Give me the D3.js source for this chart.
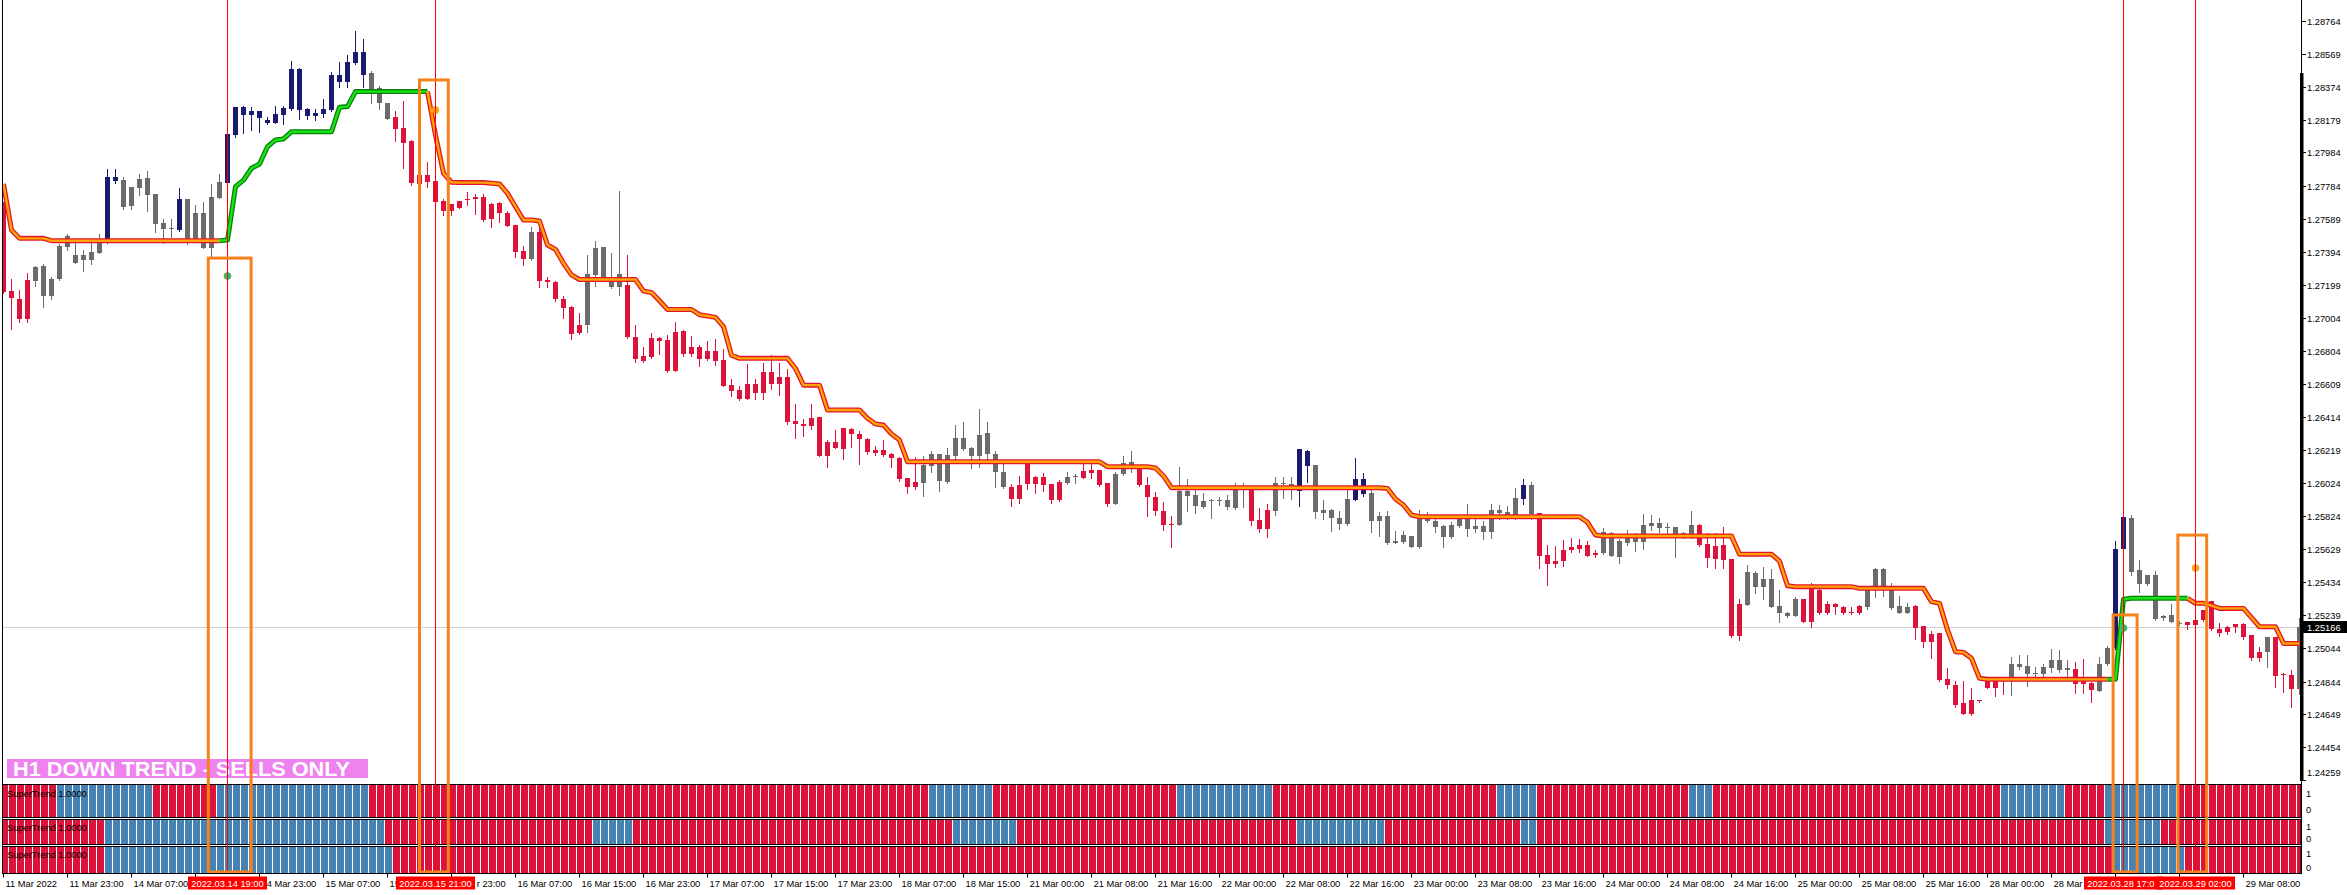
<!DOCTYPE html>
<html><head><meta charset="utf-8">
<script src="https://cdn.jsdelivr.net/npm/d3@7/dist/d3.min.js"></script>
<style>html,body{margin:0;padding:0;background:#fff;}svg{display:block;font-family:"Liberation Sans",Arial,sans-serif;}</style>
</head><body>
<svg id="chart" width="2347" height="895"></svg>
<script>
// ---------- DATA (GBPUSD H1, 11 Mar 2022 15:00 .. 29 Mar 2022 14:00) ----------
const openP=[1.27686,1.27162,1.27112,1.27227,1.27223,1.27132,1.27132,1.27231,1.27425,1.27330,
1.27346,1.27346,1.27389,1.27449,1.27816,1.27820,1.27668,1.27775,1.27832,1.27737,
1.27565,1.27536,1.27524,1.27708,1.27454,1.27625,1.27419,1.27716,1.27805,1.28087,
1.28208,1.28208,1.28190,1.28161,1.28161,1.28208,1.28242,1.28238,1.28202,1.28202,
1.28214,1.28236,1.28404,1.28404,1.28517,1.28578,1.28454,1.28366,1.28275,1.28192,
1.28127,1.28052,1.27848,1.27848,1.27813,1.27694,1.27676,1.27694,1.27708,1.27720,
1.27720,1.27680,1.27684,1.27627,1.27553,1.27399,1.27352,1.27512,1.27227,1.27215,
1.27116,1.27069,1.26962,1.26960,1.27256,1.27422,1.27234,1.27187,1.27197,1.26890,
1.26775,1.26882,1.26882,1.26870,1.26918,1.26926,1.26829,1.26829,1.26805,1.26805,
1.26752,1.26603,1.26574,1.26609,1.26609,1.26681,1.26681,1.26651,1.26651,1.26390,
1.26370,1.26408,1.26414,1.26265,1.26265,1.26348,1.26344,1.26313,1.26285,1.26218,
1.26218,1.26194,1.26172,1.26052,1.26026,1.26024,1.26126,1.26194,1.26026,1.26182,
1.26289,1.26231,1.26182,1.26316,1.26194,1.26087,1.26000,1.26010,1.26152,1.26059,
1.26059,1.26016,1.26026,1.26022,1.26055,1.26093,1.26099,1.26099,1.26020,1.25899,
1.26073,1.26115,1.26125,1.26010,1.25937,1.25856,1.25779,1.25775,1.25975,1.25951,
1.25882,1.25913,1.25913,1.25877,1.25872,1.25986,1.25992,1.25802,1.25862,1.25858,
1.26014,1.26016,1.25977,1.26125,1.26129,1.25846,1.25862,1.25814,1.25779,1.25923,
1.25957,1.25963,1.25799,1.25826,1.25666,1.25674,1.25708,1.25642,1.25828,1.25799,
1.25767,1.25703,1.25767,1.25818,1.25751,1.25729,1.25729,1.25846,1.25832,1.25832,
1.25929,1.26010,1.25842,1.25595,1.25559,1.25624,1.25642,1.25652,1.25652,1.25609,
1.25605,1.25727,1.25585,1.25668,1.25700,1.25674,1.25769,1.25785,1.25757,1.25761,
1.25718,1.25718,1.25773,1.25658,1.25650,1.25654,1.25571,1.25306,1.25298,1.25488,
1.25407,1.25452,1.25249,1.25249,1.25233,1.25332,1.25391,1.25387,1.25302,1.25302,
1.25288,1.25255,1.25294,1.25288,1.25387,1.25514,1.25407,1.25253,1.25288,1.25294,
1.25173,1.25128,1.25130,1.24859,1.24825,1.24714,1.24734,1.24734,1.24859,1.24853,
1.24869,1.24857,1.24932,1.24936,1.24889,1.24887,1.24922,1.24972,1.24912,1.24918,
1.24859,1.24837,1.24790,1.24946,1.25041,1.25628,1.25816,1.25506,1.25474,1.25474,
1.25219,1.25239,1.25187,1.25197,1.25209,1.25266,1.25320,1.25155,1.25169,1.25185,
1.25185,1.25118,1.25021,1.25021,1.25106,1.24889,1.24881,1.24801];
const highP=[1.27692,1.27231,1.27168,1.27267,1.27310,1.27320,1.27247,1.27441,1.27500,1.27445,
1.27405,1.27464,1.27498,1.27886,1.27886,1.27840,1.27779,1.27856,1.27876,1.27737,
1.27589,1.27589,1.27773,1.27708,1.27672,1.27690,1.27795,1.27858,1.28095,1.28254,
1.28260,1.28256,1.28232,1.28196,1.28260,1.28260,1.28527,1.28487,1.28250,1.28240,
1.28299,1.28463,1.28519,1.28562,1.28705,1.28655,1.28467,1.28378,1.28277,1.28230,
1.28289,1.28058,1.27850,1.27929,1.27815,1.27710,1.27678,1.27696,1.27747,1.27737,
1.27739,1.27684,1.27688,1.27638,1.27555,1.27429,1.27540,1.27540,1.27243,1.27223,
1.27132,1.27071,1.27029,1.27375,1.27458,1.27424,1.27389,1.27755,1.27375,1.26959,
1.26829,1.26910,1.26888,1.26900,1.26975,1.26930,1.26894,1.26843,1.26865,1.26876,
1.26817,1.26641,1.26599,1.26730,1.26639,1.26734,1.26783,1.26734,1.26698,1.26491,
1.26402,1.26491,1.26416,1.26277,1.26336,1.26350,1.26346,1.26330,1.26287,1.26241,
1.26277,1.26198,1.26178,1.26054,1.26178,1.26182,1.26212,1.26196,1.26227,1.26366,
1.26384,1.26233,1.26461,1.26384,1.26212,1.26156,1.26016,1.26063,1.26154,1.26061,
1.26079,1.26018,1.26039,1.26087,1.26075,1.26134,1.26146,1.26101,1.26022,1.26089,
1.26182,1.26212,1.26130,1.26055,1.25966,1.25908,1.25826,1.26119,1.26046,1.25990,
1.25961,1.25927,1.25941,1.25949,1.26024,1.26024,1.25994,1.25874,1.25897,1.26058,
1.26058,1.26058,1.26226,1.26218,1.26131,1.25921,1.25868,1.25856,1.26008,1.26170,
1.26084,1.25985,1.25850,1.25856,1.25735,1.25735,1.25710,1.25862,1.25850,1.25822,
1.25773,1.25793,1.25828,1.25896,1.25812,1.25799,1.25897,1.25890,1.25884,1.25990,
1.26046,1.26030,1.25844,1.25652,1.25648,1.25682,1.25696,1.25690,1.25680,1.25624,
1.25753,1.25729,1.25690,1.25743,1.25723,1.25838,1.25834,1.25812,1.25785,1.25763,
1.25731,1.25856,1.25779,1.25723,1.25723,1.25759,1.25573,1.25334,1.25535,1.25500,
1.25526,1.25510,1.25387,1.25257,1.25344,1.25334,1.25427,1.25403,1.25322,1.25312,
1.25290,1.25284,1.25296,1.25405,1.25518,1.25518,1.25431,1.25354,1.25308,1.25296,
1.25175,1.25146,1.25132,1.24924,1.24849,1.24845,1.24805,1.24736,1.24861,1.24859,
1.24871,1.24991,1.24999,1.24999,1.24928,1.24948,1.25035,1.25031,1.24970,1.24958,
1.24976,1.24839,1.24991,1.25054,1.25676,1.25820,1.25832,1.25565,1.25476,1.25500,
1.25237,1.25302,1.25203,1.25199,1.25268,1.25268,1.25324,1.25189,1.25171,1.25187,
1.25189,1.25120,1.25046,1.25106,1.25108,1.24897,1.24912,1.25219];
const lowP=[1.27148,1.26934,1.26980,1.26980,1.27193,1.27065,1.27116,1.27229,1.27405,1.27328,
1.27282,1.27322,1.27385,1.27445,1.27801,1.27650,1.27650,1.27733,1.27638,1.27512,
1.27449,1.27484,1.27520,1.27438,1.27451,1.27417,1.27371,1.27714,1.27801,1.28078,
1.28101,1.28117,1.28107,1.28151,1.28159,1.28155,1.28238,1.28181,1.28181,1.28177,
1.28196,1.28232,1.28374,1.28374,1.28507,1.28374,1.28279,1.28240,1.28182,1.28050,
1.27894,1.27791,1.27797,1.27777,1.27690,1.27611,1.27611,1.27654,1.27672,1.27617,
1.27577,1.27543,1.27569,1.27547,1.27365,1.27318,1.27346,1.27187,1.27187,1.27102,
1.26999,1.26875,1.26904,1.26918,1.27191,1.27222,1.27181,1.27138,1.26884,1.26738,
1.26738,1.26762,1.26787,1.26682,1.26686,1.26777,1.26775,1.26718,1.26752,1.26722,
1.26597,1.26536,1.26512,1.26520,1.26522,1.26522,1.26582,1.26546,1.26374,1.26291,
1.26301,1.26342,1.26182,1.26119,1.26229,1.26166,1.26237,1.26136,1.26194,1.26190,
1.26184,1.26119,1.26037,1.25964,1.25984,1.25948,1.26087,1.25976,1.26024,1.26138,
1.26218,1.26109,1.26115,1.26138,1.26000,1.25994,1.25883,1.25905,1.25984,1.25960,
1.25976,1.25905,1.25915,1.26016,1.26022,1.26050,1.26052,1.26004,1.25885,1.25897,
1.26069,1.26089,1.26004,1.25828,1.25830,1.25743,1.25644,1.25773,1.25858,1.25846,
1.25872,1.25816,1.25894,1.25868,1.25868,1.25877,1.25775,1.25729,1.25703,1.25832,
1.25935,1.25927,1.25888,1.26030,1.25814,1.25806,1.25735,1.25751,1.25773,1.25921,
1.25945,1.25733,1.25709,1.25660,1.25664,1.25666,1.25642,1.25638,1.25790,1.25729,
1.25644,1.25697,1.25763,1.25709,1.25729,1.25692,1.25697,1.25810,1.25810,1.25810,
1.25900,1.25810,1.25518,1.25419,1.25526,1.25531,1.25613,1.25613,1.25589,1.25581,
1.25599,1.25589,1.25549,1.25654,1.25620,1.25632,1.25745,1.25729,1.25714,1.25585,
1.25694,1.25694,1.25648,1.25526,1.25516,1.25516,1.25110,1.25090,1.25296,1.25367,
1.25336,1.25286,1.25199,1.25225,1.25231,1.25195,1.25169,1.25245,1.25245,1.25243,
1.25245,1.25245,1.25245,1.25272,1.25344,1.25352,1.25274,1.25251,1.25251,1.25096,
1.25050,1.24981,1.24849,1.24803,1.24691,1.24649,1.24645,1.24722,1.24805,1.24758,
1.24770,1.24764,1.24916,1.24817,1.24869,1.24871,1.24902,1.24902,1.24869,1.24778,
1.24778,1.24724,1.24786,1.24942,1.25039,1.25624,1.25476,1.25377,1.25417,1.25209,
1.25209,1.25195,1.25181,1.25155,1.25165,1.25203,1.25149,1.25114,1.25129,1.25139,
1.25094,1.24971,1.24967,1.24932,1.24813,1.24782,1.24693,1.24770];
const closeP=[1.27158,1.27118,1.26996,1.26996,1.27306,1.27310,1.27231,1.27429,1.27488,1.27375,
1.27375,1.27393,1.27445,1.27838,1.27838,1.27660,1.27779,1.27826,1.27733,1.27561,
1.27532,1.27528,1.27708,1.27454,1.27625,1.27419,1.27720,1.27807,1.28093,1.28252,
1.28256,1.28230,1.28230,1.28177,1.28210,1.28248,1.28479,1.28479,1.28240,1.28216,
1.28242,1.28444,1.28444,1.28519,1.28578,1.28446,1.28363,1.28275,1.28184,1.28125,
1.28042,1.27803,1.27799,1.27807,1.27692,1.27638,1.27638,1.27656,1.27700,1.27706,
1.27583,1.27587,1.27623,1.27549,1.27395,1.27352,1.27512,1.27223,1.27213,1.27112,
1.27061,1.26904,1.26910,1.27262,1.27416,1.27230,1.27187,1.27262,1.26886,1.26758,
1.26748,1.26771,1.26866,1.26686,1.26688,1.26787,1.26787,1.26760,1.26760,1.26748,
1.26599,1.26570,1.26520,1.26522,1.26558,1.26554,1.26609,1.26611,1.26386,1.26374,
1.26362,1.26362,1.26184,1.26184,1.26231,1.26225,1.26311,1.26285,1.26208,1.26202,
1.26186,1.26168,1.26047,1.25996,1.25996,1.26130,1.26194,1.26037,1.26186,1.26289,
1.26225,1.26182,1.26307,1.26194,1.26087,1.25996,1.25929,1.25929,1.26016,1.26018,
1.26012,1.25919,1.25919,1.26059,1.26065,1.26052,1.26083,1.26010,1.25895,1.26075,
1.26138,1.26146,1.26010,1.25937,1.25858,1.25774,1.25775,1.25975,1.25947,1.25888,
1.25915,1.25919,1.25923,1.25921,1.26006,1.26002,1.25799,1.25751,1.25751,1.26022,
1.26024,1.25981,1.26224,1.26212,1.25852,1.25864,1.25814,1.25779,1.25927,1.26046,
1.26046,1.25799,1.25826,1.25664,1.25678,1.25714,1.25644,1.25830,1.25794,1.25761,
1.25703,1.25773,1.25818,1.25751,1.25767,1.25767,1.25862,1.25864,1.25850,1.25933,
1.26010,1.25838,1.25591,1.25541,1.25541,1.25559,1.25624,1.25630,1.25591,1.25595,
1.25731,1.25591,1.25680,1.25700,1.25674,1.25773,1.25785,1.25757,1.25761,1.25718,
1.25727,1.25773,1.25654,1.25579,1.25573,1.25567,1.25114,1.25114,1.25494,1.25407,
1.25452,1.25288,1.25290,1.25233,1.25336,1.25199,1.25199,1.25249,1.25249,1.25284,
1.25249,1.25249,1.25249,1.25387,1.25514,1.25387,1.25282,1.25294,1.25253,1.25163,
1.25080,1.25080,1.24853,1.24825,1.24705,1.24651,1.24651,1.24728,1.24807,1.24807,
1.24847,1.24948,1.24948,1.24887,1.24897,1.24932,1.24972,1.24912,1.24922,1.24831,
1.24831,1.24792,1.24948,1.25045,1.25628,1.25818,1.25496,1.25425,1.25421,1.25215,
1.25235,1.25199,1.25193,1.25177,1.25177,1.25207,1.25153,1.25133,1.25139,1.25165,
1.25110,1.24981,1.24981,1.25106,1.24879,1.24883,1.24801,1.25166];
// candle colour class: r = crimson, g = grey, n = navy
const candleKind=("rrrrgggggg"+"gggnnggggg"+"ggngggggnn"+"nnnnnnnnnn"+"nnnnnngggr"+
"rrrrrrrrrr"+"rrrrrrgrrr"+"rrrgggggrr"+"rrrrrrrrrr"+"rrrrrrrrrr"+
"rrrrrrrrrr"+"rrrrrggggg"+"ggggggrrrr"+"rrrggrrrrg"+"ggrrrrrggg"+
"ggggggrrrg"+"ggnngggggn"+"nggggggggg"+"gggggggggg"+"ngrrrrrrrr"+
"gggggggggg"+"ggrrrrrrgg"+"gggggrrrrr"+"rrrggggggr"+"rrrrrrrrrr"+
"rggggggggr"+"rrggnngggg"+"gggrrrrrrr"+"rrrgrrrg").split("");
// SuperTrend line values
const superTrend=[1.27797,1.27524,1.27474,1.27474,1.27474,1.27474,1.27460,1.27460,1.27460,1.27460,
1.27460,1.27460,1.27460,1.27460,1.27460,1.27460,1.27460,1.27460,1.27460,1.27460,
1.27460,1.27460,1.27460,1.27460,1.27460,1.27460,1.27460,1.27460,1.27464,1.27781,
1.27820,1.27890,1.27915,1.28018,1.28058,1.28064,1.28107,1.28107,1.28107,1.28107,
1.28107,1.28107,1.28252,1.28256,1.28345,1.28345,1.28345,1.28345,1.28345,1.28345,
1.28345,1.28345,1.28345,1.28345,1.28087,1.27860,1.27807,1.27805,1.27805,1.27805,
1.27805,1.27801,1.27797,1.27741,1.27662,1.27583,1.27583,1.27577,1.27435,1.27409,
1.27326,1.27257,1.27230,1.27230,1.27230,1.27230,1.27230,1.27230,1.27230,1.27230,
1.27161,1.27153,1.27104,1.27052,1.27052,1.27052,1.27052,1.27021,1.27013,1.27005,
1.26950,1.26781,1.26762,1.26762,1.26762,1.26762,1.26762,1.26762,1.26762,1.26702,
1.26603,1.26603,1.26603,1.26455,1.26455,1.26455,1.26455,1.26455,1.26406,1.26372,
1.26366,1.26313,1.26277,1.26148,1.26148,1.26148,1.26148,1.26148,1.26148,1.26148,
1.26148,1.26148,1.26148,1.26148,1.26148,1.26148,1.26148,1.26148,1.26148,1.26148,
1.26148,1.26148,1.26148,1.26148,1.26148,1.26148,1.26148,1.26148,1.26119,1.26119,
1.26119,1.26119,1.26119,1.26119,1.26111,1.26064,1.25994,1.25994,1.25994,1.25994,
1.25994,1.25994,1.25994,1.25994,1.25994,1.25994,1.25994,1.25994,1.25994,1.25994,
1.25994,1.25994,1.25994,1.25994,1.25994,1.25994,1.25994,1.25994,1.25994,1.25994,
1.25994,1.25994,1.25994,1.25990,1.25927,1.25892,1.25832,1.25822,1.25822,1.25822,
1.25822,1.25822,1.25822,1.25822,1.25822,1.25822,1.25822,1.25822,1.25822,1.25822,
1.25822,1.25822,1.25822,1.25822,1.25822,1.25822,1.25822,1.25822,1.25789,1.25714,
1.25708,1.25708,1.25708,1.25708,1.25708,1.25708,1.25708,1.25708,1.25708,1.25708,
1.25708,1.25708,1.25708,1.25708,1.25708,1.25708,1.25708,1.25600,1.25600,1.25600,
1.25600,1.25600,1.25559,1.25413,1.25407,1.25407,1.25407,1.25407,1.25407,1.25407,
1.25407,1.25407,1.25397,1.25397,1.25397,1.25397,1.25397,1.25397,1.25397,1.25397,
1.25397,1.25318,1.25308,1.25150,1.25021,1.25017,1.24982,1.24863,1.24857,1.24857,
1.24857,1.24857,1.24857,1.24857,1.24857,1.24857,1.24857,1.24857,1.24857,1.24857,
1.24857,1.24857,1.24857,1.24857,1.24857,1.25332,1.25338,1.25338,1.25338,1.25338,
1.25338,1.25338,1.25338,1.25338,1.25308,1.25308,1.25294,1.25278,1.25278,1.25278,
1.25278,1.25223,1.25169,1.25169,1.25169,1.25070,1.25070,1.25070];
// bars (inclusive index ranges) where the SuperTrend is in up mode (green)
const superTrendUpRuns=[[28,53],[264,273]];
// three SuperTrend histogram panels: bar ranges coloured blue (up), the rest red (down)
const panelBlueRuns=[
  [[7,18],[27,45],[116,123],[147,158],[187,191],[211,213],[250,257],[263,271]],
  [[13,47],[74,78],[119,126],[162,172],[190,191],[263,269]],
  [[13,48],[264,272]]
];
const panelNames=["SuperTrend 1.0000","SuperTrend 1.0000","SuperTrend 1.0000"];
// signal dots
const buySignals=[{i:28,p:1.27251},{i:265,p:1.25162}];
const sellSignals=[{i:54,p:1.28236},{i:274,p:1.25518}];
// vertical marker lines and their date labels
const markerIdx=[28,54,265,274];
const markerLabels=["2022.03.14 19:00","2022.03.15 21:00","2022.03.28 17:00","2022.03.29 02:00"];
// highlight boxes (bar-index span, top price)
const boxes=[{from:25.6,to:30.95,top:1.27357},{from:52.0,to:55.6,top:1.28414},{from:263.7,to:266.7,top:1.25239},{from:271.8,to:275.4,top:1.25713}];
// axis tick labels
const priceTicks=[1.28764,1.28569,1.28374,1.28179,1.27984,1.27784,1.27589,1.27394,1.27199,1.27004,1.26804,1.26609,1.26414,1.26219,1.26024,1.25824,1.25629,1.25434,1.25239,1.25044,1.24844,1.24649,1.24454,1.24259];
const timeLabels=["11 Mar 2022","11 Mar 23:00","14 Mar 07:00","14 Mar 15:00","14 Mar 23:00","15 Mar 07:00","15 Mar 15:00","15 Mar 23:00","16 Mar 07:00","16 Mar 15:00","16 Mar 23:00","17 Mar 07:00","17 Mar 15:00","17 Mar 23:00","18 Mar 07:00","18 Mar 15:00","21 Mar 00:00","21 Mar 08:00","21 Mar 16:00","22 Mar 00:00","22 Mar 08:00","22 Mar 16:00","23 Mar 00:00","23 Mar 08:00","23 Mar 16:00","24 Mar 00:00","24 Mar 08:00","24 Mar 16:00","25 Mar 00:00","25 Mar 08:00","25 Mar 16:00","28 Mar 00:00","28 Mar 08:00","28 Mar 16:00","29 Mar 00:00","29 Mar 08:00"];
const trendLabel="H1  DOWN TREND - SELLS ONLY";

// ---------- LAYOUT ----------
const svg=d3.select("#chart");
const N=openP.length;
const FONT=9.3;
const axisX=2301, mainBottom=781, axisY=873.5;
const panels=[{top:784,bottom:817},{top:819,bottom:844},{top:846,bottom:873}];
const x=d3.scaleLinear().domain([0,N-1]).range([3.5,3.5+8*(N-1)]);
const y=d3.scaleLinear().domain([1.24259,1.28764]).range([780.1,21]);
const kindColor={r:"#dc143c",g:"#6b6b6b",n:"#191970"};

const defs=svg.append("defs");
defs.append("clipPath").attr("id","mainClip").append("rect")
  .attr("x",2).attr("y",0).attr("width",axisX-1).attr("height",mainBottom);

const gMain=svg.append("g").attr("clip-path","url(#mainClip)");

// current price line
const lastY=Math.round(y(closeP[N-1]))+0.5;
gMain.append("line").attr("x1",2).attr("x2",axisX).attr("y1",lastY).attr("y2",lastY)
  .attr("stroke","#d0d0d0").attr("stroke-width",1);

// candles
const gc=gMain.append("g");
for(let i=0;i<N;i++){
  const c=kindColor[candleKind[i]];
  const cx=x(i);
  gc.append("line").attr("x1",cx).attr("x2",cx)
    .attr("y1",Math.round(y(highP[i]))).attr("y2",Math.round(y(lowP[i]))+1)
    .attr("stroke",c).attr("stroke-width",1);
  const t=Math.round(y(Math.max(openP[i],closeP[i])));
  const b=Math.round(y(Math.min(openP[i],closeP[i])));
  gc.append("rect").attr("x",cx-2.5).attr("width",5).attr("y",t).attr("height",Math.max(1,b-t)).attr("fill",c);
}

// supertrend line
const upSet=new Set();
superTrendUpRuns.forEach(([a,b])=>{for(let i=a;i<=b;i++)upSet.add(i);});
const runs=[];let cur=null;
for(let i=1;i<N;i++){const up=upSet.has(i);if(!cur||cur.up!==up){cur={up,pts:[i-1]};runs.push(cur);}cur.pts.push(i);}
const stLine=d3.line().x(i=>x(i)).y(i=>y(superTrend[i]));
const gst=gMain.append("g").attr("fill","none").attr("stroke-linejoin","round").attr("stroke-linecap","butt");
runs.forEach(r=>gst.append("path").attr("d",stLine(r.pts)).attr("stroke",r.up?"#0c7d0c":"#e3152e").attr("stroke-width",5));
runs.forEach(r=>gst.append("path").attr("d",stLine(r.pts)).attr("stroke",r.up?"#14e614":"#ffa500").attr("stroke-width",2.4));

// signal dots
buySignals.forEach(s=>gMain.append("circle").attr("cx",x(s.i)).attr("cy",y(s.p)).attr("r",3.8).attr("fill","#3dbb6a"));
sellSignals.forEach(s=>gMain.append("circle").attr("cx",x(s.i)).attr("cy",y(s.p)).attr("r",3.8).attr("fill","#ffa31a"));

// trend label
const lab=svg.append("g");
lab.append("rect").attr("x",7).attr("y",759).attr("width",361).attr("height",19).attr("fill","#ee82ee");
lab.append("text").attr("x",13).attr("y",776).attr("font-size",20).attr("font-weight","bold")
  .attr("fill","#fff").attr("textLength",337).attr("lengthAdjust","spacingAndGlyphs").text(trendLabel);

// sub panels
panels.forEach((p,k)=>{
  const blue=new Set();
  panelBlueRuns[k].forEach(([a,b])=>{for(let i=a;i<=b;i++)blue.add(i);});
  const g=svg.append("g");
  for(let i=0;i<N;i++){
    const x0=Math.max(3,x(i)-2.5), x1=Math.min(axisX,x(i)+4.5);
    g.append("rect").attr("x",x0).attr("width",x1-x0).attr("y",p.top+1).attr("height",p.bottom-p.top-1)
      .attr("fill",blue.has(i)?"#4682b4":"#dc143c");
  }
  g.append("rect").attr("x",2.5).attr("y",p.top+0.5).attr("width",axisX-2.5).attr("height",p.bottom-p.top)
    .attr("fill","none").attr("stroke","#000").attr("stroke-width",1);
  g.append("text").attr("x",7).attr("y",p.top+(k===0?13:12)).attr("font-size",FONT).attr("fill","#000").text(panelNames[k]);
  const h=p.bottom-p.top;
  g.append("text").attr("x",2306).attr("y",p.top+h*0.28+3.5).attr("font-size",FONT).text("1");
  g.append("text").attr("x",2306).attr("y",p.top+h*0.78+3.5).attr("font-size",FONT).text("0");
});

// borders
svg.append("line").attr("x1",2.5).attr("x2",2.5).attr("y1",0).attr("y2",axisY).attr("stroke","#000");
svg.append("line").attr("x1",axisX+0.5).attr("x2",axisX+0.5).attr("y1",0).attr("y2",axisY).attr("stroke","#000");
svg.append("rect").attr("x",axisX-1).attr("y",73).attr("width",3.5).attr("height",mainBottom-73).attr("fill","#000");

// vertical marker lines
markerIdx.forEach(i=>svg.append("line").attr("x1",x(i)).attr("x2",x(i)).attr("y1",0).attr("y2",873)
  .attr("stroke","#ff0000").attr("stroke-width",1));

// highlight boxes
boxes.forEach(b=>svg.append("rect").attr("x",x(b.from)).attr("y",y(b.top))
  .attr("width",x(b.to)-x(b.from)).attr("height",872-y(b.top))
  .attr("fill","none").attr("stroke","#f7821b").attr("stroke-width",3));

// price axis
const ga=svg.append("g").attr("font-size",FONT).attr("fill","#000");
priceTicks.forEach(v=>{
  const yy=Math.round(y(v))+0.5;
  ga.append("line").attr("x1",axisX+1).attr("x2",axisX+5).attr("y1",yy).attr("y2",yy).attr("stroke","#000");
  ga.append("text").attr("x",2307).attr("y",Math.min(yy,772)+3.5).text(v.toFixed(5));
});
ga.append("rect").attr("x",axisX+1).attr("y",lastY-6.5).attr("width",46).attr("height",12).attr("fill","#000");
ga.append("text").attr("x",2307).attr("y",lastY+3.5).attr("fill","#fff").text(closeP[N-1].toFixed(5));

// time axis
const gt=svg.append("g").attr("font-size",FONT).attr("fill","#000");
const meas=gt.append("text").attr("x",-1000).attr("y",-1000);
const tw=s=>{meas.text(s);return meas.node().getComputedTextLength();};
gt.append("line").attr("x1",2).attr("x2",axisX+1).attr("y1",axisY).attr("y2",axisY).attr("stroke","#000");
const MW=79;
const mBoxes=markerIdx.map(i=>[x(i)-MW/2,x(i)+MW/2]);
timeLabels.forEach((t,k)=>{
  const xi=x(k*8);
  gt.append("line").attr("x1",xi).attr("x2",xi).attr("y1",axisY).attr("y2",axisY+4).attr("stroke","#000");
  // visible part of the label (the marker date boxes sit on top of it, as in the terminal)
  let s=xi+2, str=t;
  for(const [L,R] of mBoxes){
    const e=s+tw(str);
    if(e<=L||s>=R) continue;
    if(s<L){ while(str.length&&s+tw(str)>L+5) str=str.slice(0,-1); }
    else { while(str.length&&s<R-1){ s+=tw(str[0]); str=str.slice(1);} }
  }
  str=str.replace(/^\s+/,"");
  if(str.trim().length) gt.append("text").attr("x",s+(str===t?0:0)).attr("y",887).text(str);
});
markerIdx.forEach((i,k)=>{
  const xi=x(i);
  gt.append("rect").attr("x",xi-MW/2).attr("y",876.5).attr("width",MW).attr("height",13).attr("fill","#ff0000");
  let str=markerLabels[k];
  const next=mBoxes[k+1];
  const w=tw(str);
  let sx=xi-w/2;
  if(next&&sx+w>next[0]){ while(str.length&&sx+tw(str)>next[0]-0.5) str=str.slice(0,-1); }
  gt.append("text").attr("x",sx).attr("y",887).attr("fill","#fff").text(str);
});
meas.remove();
</script>
</body></html>
